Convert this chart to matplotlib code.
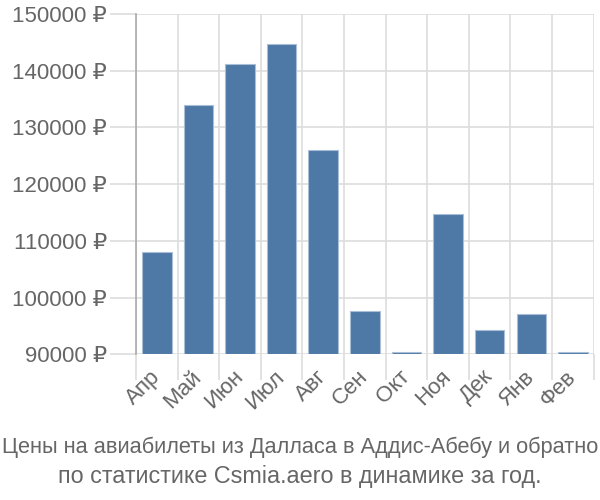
import matplotlib
matplotlib.use("Agg")
import matplotlib.pyplot as plt
from matplotlib.ticker import FuncFormatter
import matplotlib.transforms as mtransforms
import numpy as np

months = ["Апр", "Май", "Июн", "Июл", "Авг", "Сен", "Окт", "Ноя", "Дек", "Янв", "Фев"]
prices = [108050, 134000, 141200, 144700, 126050, 97600, 90400, 114700, 94200, 97050, 90400]
yticks = [90000, 100000, 110000, 120000, 130000, 140000, 150000]
title_lines = ["Цены на авиабилеты из Далласа в Аддис-Абебу и обратно",
               "по статистике Csmia.aero в динамике за год."]

plt.rcParams['font.family'] = ['Liberation Sans', 'DejaVu Sans']

fig = plt.figure(figsize=(6, 5), dpi=100)
ax = fig.add_axes([0.2267, 0.2914, 0.9895 - 0.2267, 0.972 - 0.2914])

x = np.arange(len(months))
ax.bar(x, [p - yticks[0] for p in prices], bottom=yticks[0], width=0.71,
       color="#4e78a6", edgecolor="#a9bfd8", linewidth=0.8, zorder=3)

ax.set_xlim(-0.5, len(months) - 0.5)
ax.set_ylim(yticks[0], yticks[-1])
ax.set_yticks(yticks)
ax.yaxis.set_major_formatter(FuncFormatter(lambda v, p: f"{int(v)} ₽"))
ax.set_xticks(x)
ax.set_xticklabels(months, rotation=45, ha="right", va="center", rotation_mode="anchor")
ax.set_xticks(np.arange(-0.5, len(months), 1), minor=True)

offset = mtransforms.ScaledTranslation(5 / 100, 0, fig.dpi_scale_trans)
for lab in ax.get_xticklabels():
    lab.set_transform(lab.get_transform() + offset)

ax.grid(True, axis="y", which="major", color="#dddddd", linewidth=1.2, zorder=0)
ax.grid(True, axis="x", which="minor", color="#dddddd", linewidth=1.2, zorder=0)
ax.grid(False, axis="x", which="major")

for s in ["top", "right", "bottom"]:
    ax.spines[s].set_visible(False)
ax.spines["left"].set_color("#aaaaaa")
ax.spines["left"].set_linewidth(1.2)

ax.tick_params(axis="y", which="major", length=19, color="#dddddd", width=1.2,
               labelsize=16, labelcolor="#666666", pad=2)
ax.tick_params(axis="x", which="major", length=0, labelsize=16, labelcolor="#666666", pad=14)
ax.tick_params(axis="x", which="minor", length=19, color="#dddddd", width=1.2)

fig.text(0.5, 1 - 453 / 500, title_lines[0], ha="center", va="baseline",
         fontsize=15.7, color="#666666")
fig.text(0.5, 1 - 483 / 500, title_lines[1], ha="center", va="baseline",
         fontsize=16.8, color="#666666")

fig.savefig("out.png", dpi=100)
